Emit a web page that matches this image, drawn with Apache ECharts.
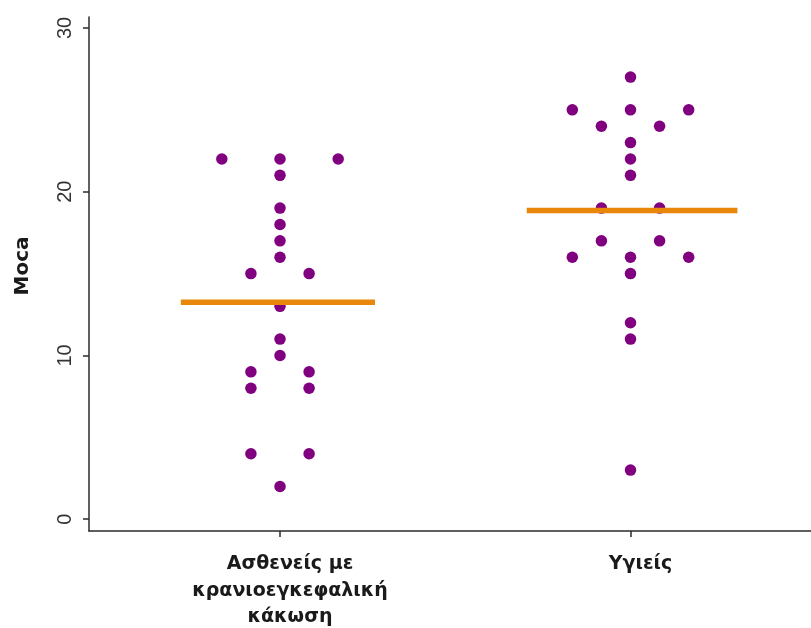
<!DOCTYPE html>
<html>
<head>
<meta charset="utf-8">
<script src="https://cdn.jsdelivr.net/npm/echarts@6/dist/echarts.min.js"></script>
<style>
  html, body { margin: 0; padding: 0; background: #fff; }
  #chart { width: 811px; height: 628px; }
</style>
</head>
<body>
<div id="chart"></div>
<script>
// Group names (x axis) and MoCA scores per group
const groupNames = ['Ασθενείς με\nκρανιοεγκεφαλική\nκάκωση', 'Υγιείς'];
const patientScores = [22, 22, 22, 21, 19, 18, 17, 16, 15, 15, 13, 11, 10, 9, 9, 8, 8, 4, 4, 2];
const healthyScores = [27, 25, 25, 25, 24, 24, 23, 22, 21, 19, 19, 17, 17, 16, 16, 16, 15, 12, 11, 3];
const yTickValues = [0, 10, 20, 30];

const PURPLE = '#800080';
const ORANGE = '#E8870A';
const AXIS = '#2b2b2b';
const LABEL_FONT = 'DejaVu Sans, Verdana, sans-serif';

// Beeswarm layout: equal values are spread side by side around the group centre
const SWARM_STEP = 0.166;
function swarm(values, centre) {
  const counts = {};
  values.forEach(v => { counts[v] = (counts[v] || 0) + 1; });
  const seen = {};
  return values.map(v => {
    const n = counts[v];
    const i = seen[v] = (seen[v] === undefined ? 0 : seen[v] + 1);
    return [centre + (i - (n - 1) / 2) * SWARM_STEP, v];
  });
}
const mean = arr => arr.reduce((a, b) => a + b, 0) / arr.length;

// Horizontal reach of each group's mean bar (left, right) around the centre
const meanBarReach = [[0.283, 0.271], [0.296, 0.305]];

const groups = [patientScores, healthyScores];
const series = [];
groups.forEach((vals, gi) => {
  const c = gi + 1;
  series.push({
    type: 'scatter',
    data: swarm(vals, c),
    symbol: 'circle',
    symbolSize: 11.5,
    itemStyle: { color: PURPLE, opacity: 1 },
    z: 2,
    silent: true
  });
});
groups.forEach((vals, gi) => {
  const c = gi + 1;
  const m = mean(vals);
  series.push({
    type: 'line',
    data: [[c - meanBarReach[gi][0], m], [c + meanBarReach[gi][1], m]],
    symbol: 'none',
    lineStyle: { color: ORANGE, width: 5.5, cap: 'butt' },
    z: 5,
    silent: true
  });
});

const chart = echarts.init(document.getElementById('chart'), null, { renderer: 'canvas' });
chart.setOption({
  animation: false,
  backgroundColor: '#ffffff',
  grid: { left: 89, right: 0, top: 17, bottom: 97, containLabel: false, outerBoundsMode: 'none' },
  xAxis: {
    type: 'value',
    min: 0.455,
    max: 2.515,
    splitLine: { show: false },
    axisLine: { show: true, onZero: false, lineStyle: { color: AXIS, width: 1.5 } },
    axisTick: { show: true, customValues: [1, 2], length: 6, lineStyle: { color: AXIS, width: 1.5 } },
    axisLabel: {
      customValues: [1, 2],
      formatter: v => groupNames[Math.round(v) - 1],
      margin: 20,
      padding: [0, 0, 0, 20],
      color: '#1a1a1a',
      fontFamily: LABEL_FONT,
      fontWeight: 'bold',
      fontSize: 19,
      lineHeight: 26.5,
      verticalAlign: 'top'
    }
  },
  yAxis: {
    type: 'value',
    min: -0.72,
    max: 30.67,
    name: 'Moca',
    nameLocation: 'middle',
    nameRotate: 90,
    nameGap: 56,
    nameTextStyle: {
      color: '#1a1a1a',
      fontFamily: LABEL_FONT,
      fontWeight: 'bold',
      fontSize: 20,
      padding: [0, 0, 0, 16]
    },
    splitLine: { show: false },
    axisLine: { show: true, onZero: false, lineStyle: { color: AXIS, width: 1.5 } },
    axisTick: { show: true, customValues: yTickValues, length: 6, lineStyle: { color: AXIS, width: 1.5 } },
    axisLabel: {
      customValues: yTickValues,
      rotate: 90,
      margin: 14,
      color: '#333',
      fontFamily: 'Liberation Sans, Arial, sans-serif',
      fontSize: 20
    }
  },
  series: series
});
</script>
</body>
</html>
